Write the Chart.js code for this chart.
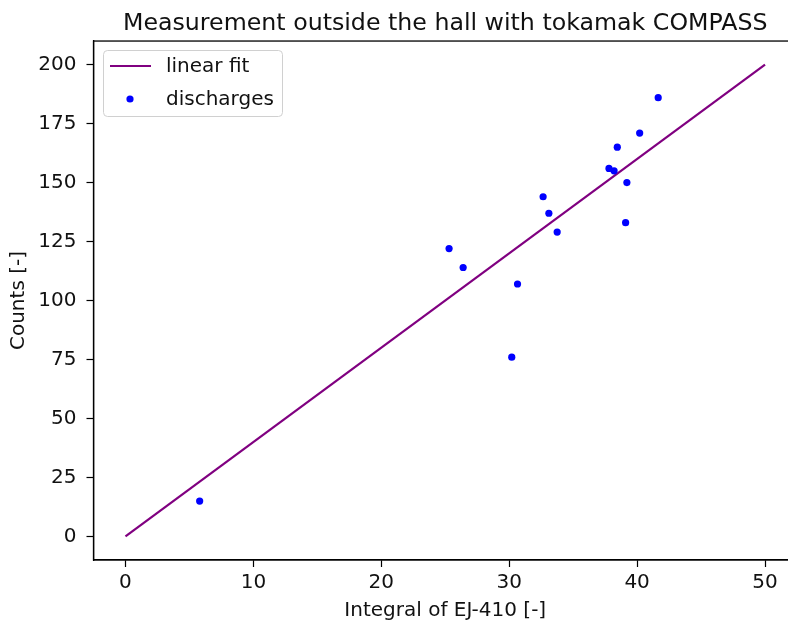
<!DOCTYPE html>
<html lang="en">
<head>
  <meta charset="UTF-8" />
  <title>Measurement outside the hall with tokamak COMPASS</title>
  <script src="https://cdn.jsdelivr.net/npm/chart.js"></script>
  <style>
    body {
      margin: 0;
      background: #fff;
      overflow: hidden;
    }
  </style>
</head>
<body>
  <canvas id="fitChart" width="798" height="626"></canvas>
<script>
  // data
  const dischargeX = [5.8, 25.3, 26.4, 30.2, 30.65, 32.65, 33.1, 33.75, 37.8, 38.2, 38.45, 39.2, 39.1, 40.2, 41.65];
  const dischargeY = [15, 122, 114, 76, 107, 144, 137, 129, 156, 155, 165, 150, 133, 171, 186];
  const fitX = [0, 50];
  const fitY = [0, 200];
  const xTicks = [0, 10, 20, 30, 40, 50];
  const yTicks = [0, 25, 50, 75, 100, 125, 150, 175, 200];

  const FONT = "'DejaVu Sans', sans-serif";
  const TXT = "#111";

  // box around the axes (right side ends up just outside the window, like the original crop)
  const frame = {
    id: "frame",
    afterDraw(chart) {
      const { ctx, chartArea: a } = chart;
      ctx.save();
      ctx.strokeStyle = "#000";
      ctx.lineWidth = 1.3;
      ctx.strokeRect(a.left, a.top, a.right - a.left, a.bottom - a.top);
      ctx.restore();
    }
  };

  // legend box in the upper left, like plt.legend()
  const boxLegend = {
    id: "boxLegend",
    afterDraw(chart) {
      const { ctx } = chart;
      const line = chart.data.datasets[0];
      const dots = chart.data.datasets[1];
      ctx.save();
      ctx.beginPath();
      ctx.roundRect(103.5, 50.5, 179, 66, 4);
      ctx.fillStyle = "rgba(255,255,255,0.8)";
      ctx.fill();
      ctx.strokeStyle = "#d0d0d0";
      ctx.lineWidth = 1;
      ctx.stroke();

      ctx.strokeStyle = line.borderColor;
      ctx.lineWidth = line.borderWidth;
      ctx.beginPath();
      ctx.moveTo(110, 66);
      ctx.lineTo(151, 66);
      ctx.stroke();

      ctx.fillStyle = dots.backgroundColor;
      ctx.beginPath();
      ctx.arc(130, 99, dots.pointRadius, 0, Math.PI * 2);
      ctx.fill();

      ctx.fillStyle = TXT;
      ctx.font = "20px " + FONT;
      ctx.textBaseline = "middle";
      ctx.fillText(line.label, 166, 67);
      ctx.fillText(dots.label, 166, 100);
      ctx.restore();
    }
  };

  const ctx = document.getElementById("fitChart").getContext("2d");
  const chart = new Chart(ctx, {
    data: {
      datasets: [{
        type: "line",
        label: "linear fit",
        data: fitX.map((x, i) => ({ x: x, y: fitY[i] })),
        borderColor: "#800080",
        borderWidth: 2.2,
        pointRadius: 0,
        fill: false,
        order: 1
      }, {
        type: "scatter",
        label: "discharges",
        data: dischargeX.map((x, i) => ({ x: x, y: dischargeY[i] })),
        backgroundColor: "#0000ff",
        borderWidth: 0,
        pointRadius: 3.6,
        order: 0
      }]
    },
    options: {
      responsive: false,
      animation: false,
      events: [],
      layout: { autoPadding: false, padding: { left: 0, top: 0, bottom: 0, right: 1 } },
      scales: {
        x: {
          type: "linear",
          min: -2.5,
          max: 52.5,
          afterBuildTicks: s => { s.ticks = xTicks.map(v => ({ value: v })); },
          afterFit: s => { s.height = 66; },
          grid: { drawOnChartArea: false, drawTicks: true, tickLength: 7, color: "#000", tickWidth: 1.2 },
          border: { display: true, color: "#000", width: 1.3 },
          ticks: { color: TXT, font: { family: FONT, size: 20 }, padding: 4, maxRotation: 0 },
          title: { display: true, text: "Integral of EJ-410 [-]", color: TXT, font: { family: FONT, size: 20 }, padding: { top: 0, bottom: 3 } }
        },
        y: {
          type: "linear",
          min: -10,
          max: 210,
          afterBuildTicks: s => { s.ticks = yTicks.map(v => ({ value: v })); },
          afterFit: s => { s.width = 93.5; },
          grid: { drawOnChartArea: false, drawTicks: true, tickLength: 7, color: "#000", tickWidth: 1.2 },
          border: { display: true, color: "#000", width: 1.3 },
          ticks: { color: TXT, font: { family: FONT, size: 20 }, padding: 10 },
          title: { display: true, text: "Counts [-]", color: TXT, font: { family: FONT, size: 20 }, padding: { top: 7, bottom: 0 } }
        }
      },
      plugins: {
        legend: { display: false },
        tooltip: { enabled: false },
        title: {
          display: true,
          fullSize: false,
          text: "Measurement outside the hall with tokamak COMPASS",
          color: TXT,
          font: { family: FONT, size: 23.7, weight: "normal", lineHeight: 1.2 },
          padding: { top: 10, bottom: 2.6 }
        }
      }
    },
    plugins: [frame, boxLegend]
  });
</script>
</body>
</html>
